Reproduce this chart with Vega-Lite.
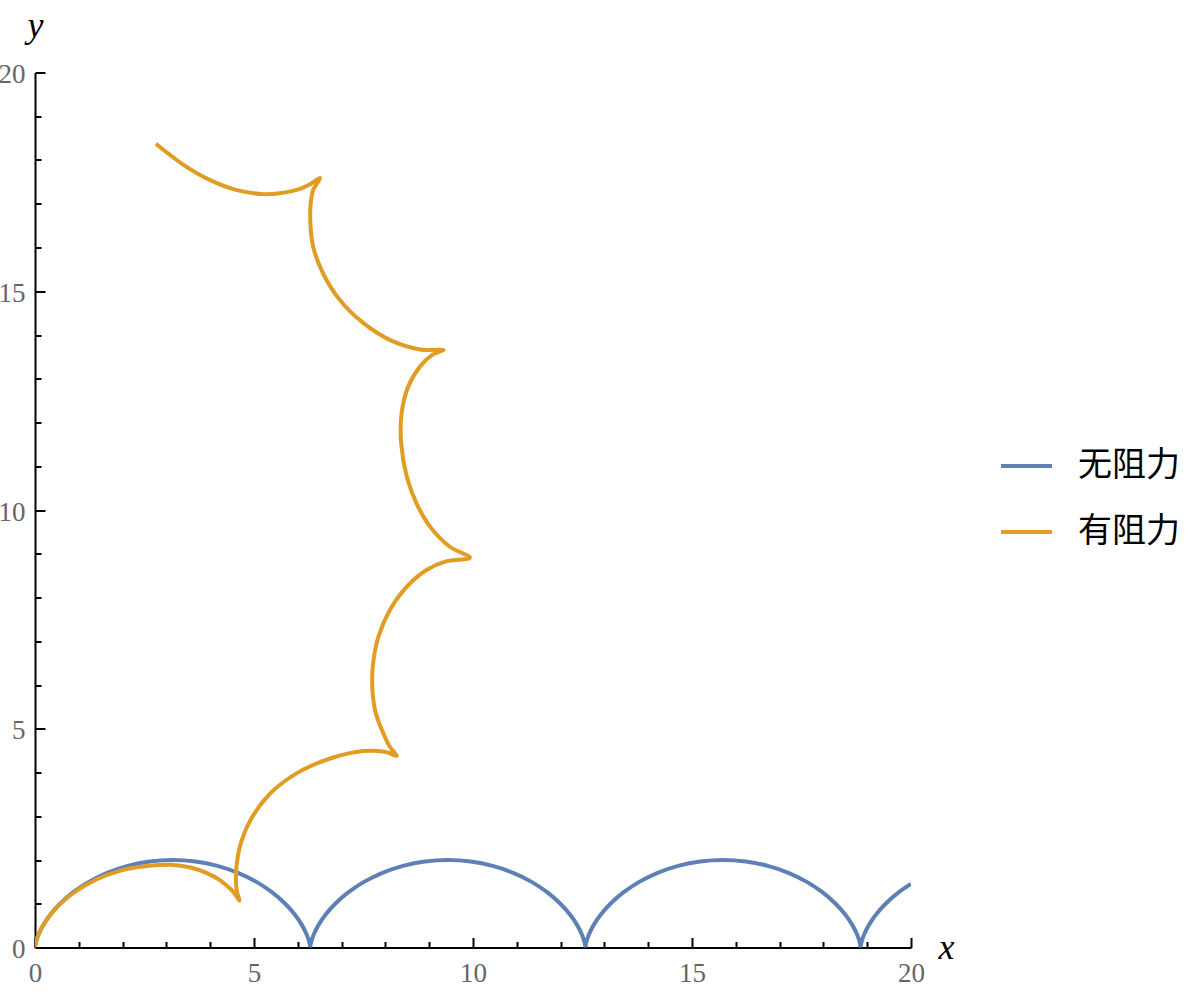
{
  "$schema": "https://vega.github.io/schema/vega-lite/v6.json",
  "width": 876,
  "height": 875,
  "autosize": "none",
  "padding": {"left": 35, "top": 72.5, "right": 289, "bottom": 46.5},
  "background": "#ffffff",
  "view": {"stroke": null},
  "data": {
    "values": [
      {"series": "无阻力", "i": 0, "x": 0, "y": 0},
      {"series": "无阻力", "i": 1, "x": 0.003, "y": 0.0341},
      {"series": "无阻力", "i": 2, "x": 0.0236, "y": 0.134},
      {"series": "无阻力", "i": 3, "x": 0.0783, "y": 0.2929},
      {"series": "无阻力", "i": 4, "x": 0.1812, "y": 0.5},
      {"series": "无阻力", "i": 5, "x": 0.3431, "y": 0.7412},
      {"series": "无阻力", "i": 6, "x": 0.5708, "y": 1},
      {"series": "无阻力", "i": 7, "x": 0.8667, "y": 1.2588},
      {"series": "无阻力", "i": 8, "x": 1.2284, "y": 1.5},
      {"series": "无阻力", "i": 9, "x": 1.6491, "y": 1.7071},
      {"series": "无阻力", "i": 10, "x": 2.118, "y": 1.866},
      {"series": "无阻力", "i": 11, "x": 2.621, "y": 1.9659},
      {"series": "无阻力", "i": 12, "x": 3.1416, "y": 2},
      {"series": "无阻力", "i": 13, "x": 3.6622, "y": 1.9659},
      {"series": "无阻力", "i": 14, "x": 4.1652, "y": 1.866},
      {"series": "无阻力", "i": 15, "x": 4.6341, "y": 1.7071},
      {"series": "无阻力", "i": 16, "x": 5.0548, "y": 1.5},
      {"series": "无阻力", "i": 17, "x": 5.4165, "y": 1.2588},
      {"series": "无阻力", "i": 18, "x": 5.7124, "y": 1},
      {"series": "无阻力", "i": 19, "x": 5.9401, "y": 0.7412},
      {"series": "无阻力", "i": 20, "x": 6.102, "y": 0.5},
      {"series": "无阻力", "i": 21, "x": 6.2049, "y": 0.2929},
      {"series": "无阻力", "i": 22, "x": 6.2596, "y": 0.134},
      {"series": "无阻力", "i": 23, "x": 6.2802, "y": 0.0341},
      {"series": "无阻力", "i": 24, "x": 6.2832, "y": 0},
      {"series": "无阻力", "i": 25, "x": 6.2862, "y": 0.0341},
      {"series": "无阻力", "i": 26, "x": 6.3068, "y": 0.134},
      {"series": "无阻力", "i": 27, "x": 6.3615, "y": 0.2929},
      {"series": "无阻力", "i": 28, "x": 6.4644, "y": 0.5},
      {"series": "无阻力", "i": 29, "x": 6.6263, "y": 0.7412},
      {"series": "无阻力", "i": 30, "x": 6.854, "y": 1},
      {"series": "无阻力", "i": 31, "x": 7.1499, "y": 1.2588},
      {"series": "无阻力", "i": 32, "x": 7.5116, "y": 1.5},
      {"series": "无阻力", "i": 33, "x": 7.9323, "y": 1.7071},
      {"series": "无阻力", "i": 34, "x": 8.4012, "y": 1.866},
      {"series": "无阻力", "i": 35, "x": 8.9042, "y": 1.9659},
      {"series": "无阻力", "i": 36, "x": 9.4248, "y": 2},
      {"series": "无阻力", "i": 37, "x": 9.9454, "y": 1.9659},
      {"series": "无阻力", "i": 38, "x": 10.4484, "y": 1.866},
      {"series": "无阻力", "i": 39, "x": 10.9173, "y": 1.7071},
      {"series": "无阻力", "i": 40, "x": 11.338, "y": 1.5},
      {"series": "无阻力", "i": 41, "x": 11.6997, "y": 1.2588},
      {"series": "无阻力", "i": 42, "x": 11.9956, "y": 1},
      {"series": "无阻力", "i": 43, "x": 12.2233, "y": 0.7412},
      {"series": "无阻力", "i": 44, "x": 12.3852, "y": 0.5},
      {"series": "无阻力", "i": 45, "x": 12.4881, "y": 0.2929},
      {"series": "无阻力", "i": 46, "x": 12.5428, "y": 0.134},
      {"series": "无阻力", "i": 47, "x": 12.5634, "y": 0.0341},
      {"series": "无阻力", "i": 48, "x": 12.5664, "y": 0},
      {"series": "无阻力", "i": 49, "x": 12.5694, "y": 0.0341},
      {"series": "无阻力", "i": 50, "x": 12.59, "y": 0.134},
      {"series": "无阻力", "i": 51, "x": 12.6447, "y": 0.2929},
      {"series": "无阻力", "i": 52, "x": 12.7476, "y": 0.5},
      {"series": "无阻力", "i": 53, "x": 12.9095, "y": 0.7412},
      {"series": "无阻力", "i": 54, "x": 13.1372, "y": 1},
      {"series": "无阻力", "i": 55, "x": 13.4331, "y": 1.2588},
      {"series": "无阻力", "i": 56, "x": 13.7948, "y": 1.5},
      {"series": "无阻力", "i": 57, "x": 14.2155, "y": 1.7071},
      {"series": "无阻力", "i": 58, "x": 14.6844, "y": 1.866},
      {"series": "无阻力", "i": 59, "x": 15.1874, "y": 1.9659},
      {"series": "无阻力", "i": 60, "x": 15.708, "y": 2},
      {"series": "无阻力", "i": 61, "x": 16.2286, "y": 1.9659},
      {"series": "无阻力", "i": 62, "x": 16.7316, "y": 1.866},
      {"series": "无阻力", "i": 63, "x": 17.2005, "y": 1.7071},
      {"series": "无阻力", "i": 64, "x": 17.6212, "y": 1.5},
      {"series": "无阻力", "i": 65, "x": 17.9829, "y": 1.2588},
      {"series": "无阻力", "i": 66, "x": 18.2788, "y": 1},
      {"series": "无阻力", "i": 67, "x": 18.5065, "y": 0.7412},
      {"series": "无阻力", "i": 68, "x": 18.6684, "y": 0.5},
      {"series": "无阻力", "i": 69, "x": 18.7713, "y": 0.2929},
      {"series": "无阻力", "i": 70, "x": 18.826, "y": 0.134},
      {"series": "无阻力", "i": 71, "x": 18.8466, "y": 0.0341},
      {"series": "无阻力", "i": 72, "x": 18.8496, "y": 0},
      {"series": "无阻力", "i": 73, "x": 18.8526, "y": 0.0341},
      {"series": "无阻力", "i": 74, "x": 18.8732, "y": 0.134},
      {"series": "无阻力", "i": 75, "x": 18.9279, "y": 0.2929},
      {"series": "无阻力", "i": 76, "x": 19.0308, "y": 0.5},
      {"series": "无阻力", "i": 77, "x": 19.1927, "y": 0.7412},
      {"series": "无阻力", "i": 78, "x": 19.4204, "y": 1},
      {"series": "无阻力", "i": 79, "x": 19.7163, "y": 1.2588},
      {"series": "无阻力", "i": 80, "x": 20.0, "y": 1.452},
      {"series": "有阻力", "i": 0, "x": 0, "y": 0},
      {"series": "有阻力", "i": 1, "x": 0.024, "y": 0.134},
      {"series": "有阻力", "i": 2, "x": 0.08, "y": 0.29},
      {"series": "有阻力", "i": 3, "x": 0.18, "y": 0.5},
      {"series": "有阻力", "i": 4, "x": 0.34, "y": 0.73},
      {"series": "有阻力", "i": 5, "x": 0.57, "y": 0.99},
      {"series": "有阻力", "i": 6, "x": 0.87, "y": 1.24},
      {"series": "有阻力", "i": 7, "x": 1.23, "y": 1.47},
      {"series": "有阻力", "i": 8, "x": 1.65, "y": 1.66},
      {"series": "有阻力", "i": 9, "x": 2.12, "y": 1.8},
      {"series": "有阻力", "i": 10, "x": 2.62, "y": 1.87},
      {"series": "有阻力", "i": 11, "x": 3.1, "y": 1.89},
      {"series": "有阻力", "i": 12, "x": 3.55, "y": 1.83},
      {"series": "有阻力", "i": 13, "x": 3.9, "y": 1.71},
      {"series": "有阻力", "i": 14, "x": 4.22, "y": 1.54},
      {"series": "有阻力", "i": 15, "x": 4.49, "y": 1.31},
      {"series": "有阻力", "i": 16, "x": 4.6, "y": 1.17},
      {"series": "有阻力", "i": 17, "x": 4.67, "y": 1.07},
      {"series": "有阻力", "i": 18, "x": 4.61, "y": 1.28},
      {"series": "有阻力", "i": 19, "x": 4.59, "y": 1.5},
      {"series": "有阻力", "i": 20, "x": 4.6, "y": 1.85},
      {"series": "有阻力", "i": 21, "x": 4.71, "y": 2.42},
      {"series": "有阻力", "i": 22, "x": 4.93, "y": 2.93},
      {"series": "有阻力", "i": 23, "x": 5.37, "y": 3.52},
      {"series": "有阻力", "i": 24, "x": 5.97, "y": 3.98},
      {"series": "有阻力", "i": 25, "x": 6.74, "y": 4.32},
      {"series": "有阻力", "i": 26, "x": 7.5, "y": 4.49},
      {"series": "有阻力", "i": 27, "x": 7.95, "y": 4.48},
      {"series": "有阻力", "i": 28, "x": 8.1, "y": 4.44},
      {"series": "有阻力", "i": 29, "x": 8.26, "y": 4.38},
      {"series": "有阻力", "i": 30, "x": 8.1, "y": 4.59},
      {"series": "有阻力", "i": 31, "x": 7.92, "y": 4.97},
      {"series": "有阻力", "i": 32, "x": 7.77, "y": 5.4},
      {"series": "有阻力", "i": 33, "x": 7.7, "y": 5.96},
      {"series": "有阻力", "i": 34, "x": 7.72, "y": 6.5},
      {"series": "有阻力", "i": 35, "x": 7.84, "y": 7.1},
      {"series": "有阻力", "i": 36, "x": 8.1, "y": 7.71},
      {"series": "有阻力", "i": 37, "x": 8.49, "y": 8.25},
      {"series": "有阻力", "i": 38, "x": 8.94, "y": 8.63},
      {"series": "有阻力", "i": 39, "x": 9.4, "y": 8.83},
      {"series": "有阻力", "i": 40, "x": 9.93, "y": 8.91},
      {"series": "有阻力", "i": 41, "x": 9.47, "y": 9.16},
      {"series": "有阻力", "i": 42, "x": 9.02, "y": 9.62},
      {"series": "有阻力", "i": 43, "x": 8.71, "y": 10.15},
      {"series": "有阻力", "i": 44, "x": 8.49, "y": 10.76},
      {"series": "有阻力", "i": 45, "x": 8.36, "y": 11.52},
      {"series": "有阻力", "i": 46, "x": 8.37, "y": 12.21},
      {"series": "有阻力", "i": 47, "x": 8.52, "y": 12.82},
      {"series": "有阻力", "i": 48, "x": 8.79, "y": 13.28},
      {"series": "有阻力", "i": 49, "x": 9.06, "y": 13.54},
      {"series": "有阻力", "i": 50, "x": 9.33, "y": 13.66},
      {"series": "有阻力", "i": 51, "x": 9.1, "y": 13.66},
      {"series": "有阻力", "i": 52, "x": 8.79, "y": 13.67},
      {"series": "有阻力", "i": 53, "x": 8.1, "y": 13.89},
      {"series": "有阻力", "i": 54, "x": 7.5, "y": 14.27},
      {"series": "有阻力", "i": 55, "x": 6.96, "y": 14.8},
      {"series": "有阻力", "i": 56, "x": 6.58, "y": 15.4},
      {"series": "有阻力", "i": 57, "x": 6.35, "y": 16.02},
      {"series": "有阻力", "i": 58, "x": 6.29, "y": 16.5},
      {"series": "有阻力", "i": 59, "x": 6.29, "y": 16.95},
      {"series": "有阻力", "i": 60, "x": 6.35, "y": 17.31},
      {"series": "有阻力", "i": 61, "x": 6.51, "y": 17.59},
      {"series": "有阻力", "i": 62, "x": 6.29, "y": 17.45},
      {"series": "有阻力", "i": 63, "x": 6.05, "y": 17.34},
      {"series": "有阻力", "i": 64, "x": 5.59, "y": 17.24},
      {"series": "有阻力", "i": 65, "x": 5.21, "y": 17.22},
      {"series": "有阻力", "i": 66, "x": 4.61, "y": 17.31},
      {"series": "有阻力", "i": 67, "x": 4.0, "y": 17.54},
      {"series": "有阻力", "i": 68, "x": 3.39, "y": 17.89},
      {"series": "有阻力", "i": 69, "x": 2.76, "y": 18.37}
    ]
  },
  "mark": {"type": "line", "strokeWidth": 4, "clip": true, "interpolate": "catmull-rom", "strokeJoin": "miter", "strokeMiterLimit": 10},
  "encoding": {
    "x": {
      "field": "x",
      "type": "quantitative",
      "scale": {"domain": [0, 20], "nice": false, "zero": false},
      "axis": {
        "values": [0, 1, 2, 3, 4, 5, 6, 7, 8, 9, 10, 11, 12, 13, 14, 15, 16, 17, 18, 19, 20],
        "labelExpr": "datum.value % 5 === 0 ? datum.label : ''",
        "tickSize": {"condition": {"test": "datum.value % 5 === 0", "value": -10}, "value": -6},
        "grid": false,
        "domainColor": "#000000",
        "domainWidth": 2,
        "tickColor": "#000000",
        "tickWidth": 2,
        "labelFont": "Liberation Serif",
        "labelFontSize": 27,
        "labelColor": "#666666",
        "labelPadding": 23,
        "labelFlush": false,
        "labelOverlap": false,
        "title": "x",
        "titleFont": "Liberation Serif",
        "titleFontStyle": "italic",
        "titleFontWeight": "normal",
        "titleFontSize": 36,
        "titleColor": "#000000",
        "titleX": 911,
        "titleY": 0,
        "titleAlign": "center",
        "titleBaseline": "middle",
        "titleAngle": 0
      }
    },
    "y": {
      "field": "y",
      "type": "quantitative",
      "scale": {"domain": [0, 20], "nice": false, "zero": false},
      "axis": {
        "values": [0, 1, 2, 3, 4, 5, 6, 7, 8, 9, 10, 11, 12, 13, 14, 15, 16, 17, 18, 19, 20],
        "labelExpr": "datum.value % 5 === 0 ? datum.label : ''",
        "tickSize": {"condition": {"test": "datum.value % 5 === 0", "value": -10}, "value": -6},
        "grid": false,
        "domainColor": "#000000",
        "domainWidth": 2,
        "tickColor": "#000000",
        "tickWidth": 2,
        "labelFont": "Liberation Serif",
        "labelFontSize": 27,
        "labelColor": "#666666",
        "labelPadding": 20,
        "labelOffset": 2,
        "labelOverlap": false,
        "labelFlush": false,
        "title": "y",
        "titleFont": "Liberation Serif",
        "titleFontStyle": "italic",
        "titleFontWeight": "normal",
        "titleFontSize": 36,
        "titleColor": "#000000",
        "titleX": 0,
        "titleY": -36,
        "titleAlign": "center",
        "titleBaseline": "alphabetic",
        "titleAngle": 0
      }
    },
    "order": {"field": "i", "type": "quantitative"},
    "color": {
      "field": "series",
      "type": "nominal",
      "scale": {"domain": ["无阻力", "有阻力"], "range": ["#5E81B5", "#E19C24"]},
      "legend": {
        "title": null,
        "orient": "none",
        "legendX": 964,
        "legendY": 366,
        "padding": 0,
        "symbolType": "stroke",
        "symbolSize": 2600,
        "symbolStrokeWidth": 4,
        "labelFont": "Noto Sans CJK SC",
        "labelFontSize": 34,
        "labelColor": "#000000",
        "labelOffset": 24,
        "labelLimit": 0,
        "rowPadding": 21
      }
    }
  }
}
